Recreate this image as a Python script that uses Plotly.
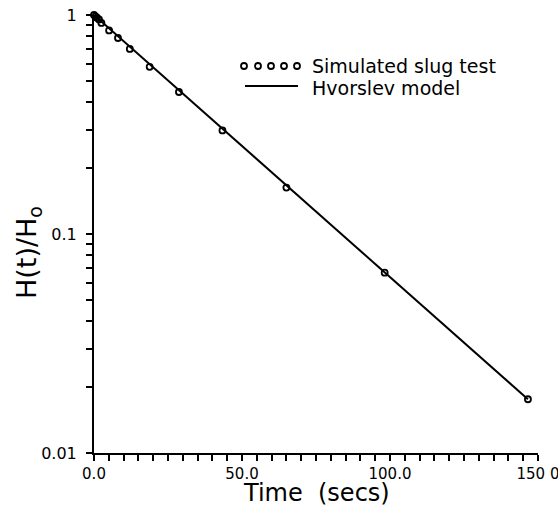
import plotly.graph_objects as go

# Simulated slug test
time_sim = [0.0, 0.5, 1.0, 1.7, 2.5, 5.1, 8.1, 12.1, 18.8, 28.7, 43.4, 65.0, 98.2, 146.6]
head_sim = [1.0, 0.986, 0.972, 0.955, 0.92, 0.85, 0.785, 0.70, 0.58, 0.445, 0.297, 0.163, 0.0666, 0.0176]

# Hvorslev model line (straight on semilog)
time_model = [0.0, 146.6]
head_model = [1.0, 0.0176]

x_tickvals = list(range(0, 151, 5))
x_major = {0: "0.0", 50: "50.0", 100: "100.0", 150: "150 0"}
x_ticktext = [x_major.get(v, " ") for v in x_tickvals]

y_tickvals = [m * 10 ** e for e in (-2, -1) for m in range(1, 10)] + [1.0]
y_major = {0.01: "0.01", 0.1: "0.1", 1.0: "1"}
y_ticktext = [y_major.get(round(v, 6), " ") for v in y_tickvals]

legend_labels = ["Simulated slug test", "Hvorslev model"]

W, H = 558, 508
L, R, T, B = 94, 20, 15, 55
PW, PH = W - L - R, H - T - B

def px(x):
    return (x - L) / PW

def py(y):
    return (H - B - y) / PH

FONT = "DejaVu Sans"

fig = go.Figure()
fig.add_trace(go.Scatter(
    x=time_model, y=head_model, mode="lines",
    line=dict(color="black", width=2), showlegend=False, cliponaxis=False))
fig.add_trace(go.Scatter(
    x=time_sim, y=head_sim, mode="markers",
    marker=dict(symbol="circle-open", size=6, color="black", line=dict(width=1.8)),
    showlegend=False, cliponaxis=False))

shapes = []
for cx in [244, 258, 271, 284, 297]:
    shapes.append(dict(type="circle", xref="paper", yref="paper",
                       xsizemode="pixel", ysizemode="pixel",
                       xanchor=px(cx), yanchor=py(66),
                       x0=-3, x1=3, y0=-3, y1=3,
                       line=dict(color="black", width=1.8)))
shapes.append(dict(type="line", xref="paper", yref="paper",
                   x0=px(245), x1=px(298), y0=py(86), y1=py(86),
                   line=dict(color="black", width=2)))

annotations = [
    dict(text=legend_labels[0], xref="paper", yref="paper", x=px(310), y=py(66),
         xanchor="left", yanchor="middle", showarrow=False,
         font=dict(family=FONT, size=19, color="black")),
    dict(text=legend_labels[1], xref="paper", yref="paper", x=px(310), y=py(88),
         xanchor="left", yanchor="middle", showarrow=False,
         font=dict(family=FONT, size=19, color="black")),
    dict(text="Time  (secs)", xref="paper", yref="paper", x=0.5, y=py(493),
         xanchor="center", yanchor="middle", showarrow=False,
         font=dict(family=FONT, size=24, color="black")),
    dict(text="H(t)/H<sub>o</sub>", xref="paper", yref="paper", x=px(28), y=py(253),
         xanchor="center", yanchor="middle", showarrow=False, textangle=-90,
         font=dict(family=FONT, size=27, color="black")),
]

fig.update_layout(
    width=W, height=H,
    margin=dict(l=L, r=R, t=T, b=B, autoexpand=False),
    paper_bgcolor="white", plot_bgcolor="white",
    font=dict(family=FONT, color="black"),
    shapes=shapes, annotations=annotations,
    xaxis=dict(range=[0, 150], showline=True, linewidth=2, linecolor="black",
               showgrid=False, zeroline=False, ticks="outside", ticklen=6,
               tickwidth=2, tickcolor="black", tickvals=x_tickvals,
               ticktext=x_ticktext, tickfont=dict(size=15), tickangle=0,
               ticklabeloverflow="allow", automargin=False, layer="above traces"),
    yaxis=dict(type="log", range=[-2, 0], showline=True, linewidth=2, linecolor="black",
               showgrid=False, zeroline=False, ticks="outside", ticklen=6,
               tickwidth=2, tickcolor="black", tickvals=y_tickvals,
               ticktext=y_ticktext, tickfont=dict(size=16), ticklabelstandoff=6,
               ticklabeloverflow="allow", automargin=False, layer="above traces"),
)

fig.write_html("out.html")
